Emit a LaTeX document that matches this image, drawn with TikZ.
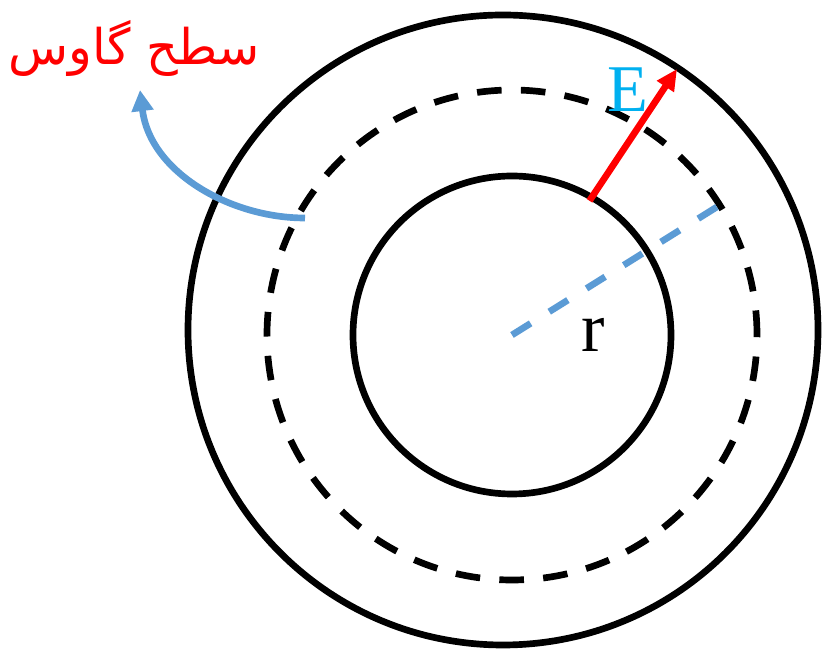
\documentclass[tikz,border=0pt]{standalone}
\usepackage{fontspec}
\setmainfont{Liberation Serif}
\newfontfamily\arabicfont[Script=Arabic]{DejaVu Sans}
\TeXXeTstate=1
\usetikzlibrary{arrows.meta, calc}
\definecolor{gaussRed}{HTML}{FF0000}
\definecolor{fieldCyan}{HTML}{00B0F0}
\definecolor{gaussBlue}{HTML}{5B9BD5}
\begin{document}
\begin{tikzpicture}[x=0.02cm, y=0.02cm, line width=3.8pt]
        \useasboundingbox (0,0) rectangle (822,652);
        \coordinate (center) at (512,317);
        \draw (503,322) circle[radius=315];
        \draw (center) circle[radius=159];
        \draw[dash pattern=on 14pt off 11pt] (center) circle[radius=245];
        \coordinate (rEnd) at ($(center)+(32:243)$);
        \draw[gaussBlue, dash pattern=on 12.5pt off 12.5pt] (center) -- (rEnd);
        \coordinate (eStart) at ($(center)+(60:155)$);
        \coordinate (eTip) at (677,583);
        \draw[gaussRed, -{Triangle[length=12pt, width=11pt]}] (eStart) -- (eTip);
        \coordinate (curveStart) at (305,434);
        \coordinate (curveTip) at (140,562);
        \draw[gaussBlue, -{Triangle[length=12pt, width=12pt]}] (curveStart)
          .. controls (230,434) and (150,480) .. (curveTip);
        \node[font=\fontsize{38}{40}\selectfont\color{fieldCyan}] (fieldLabel) at (628,562) {E};
        \node[font=\fontsize{40}{42}\selectfont] (radiusLabel) at (593,317) {r};
        \node[font=\fontsize{28}{34}\selectfont\arabicfont\color{gaussRed}] (surfaceLabel) at (134,604) {\beginR سطح گاوس\endR};
      \end{tikzpicture}
\end{document}
